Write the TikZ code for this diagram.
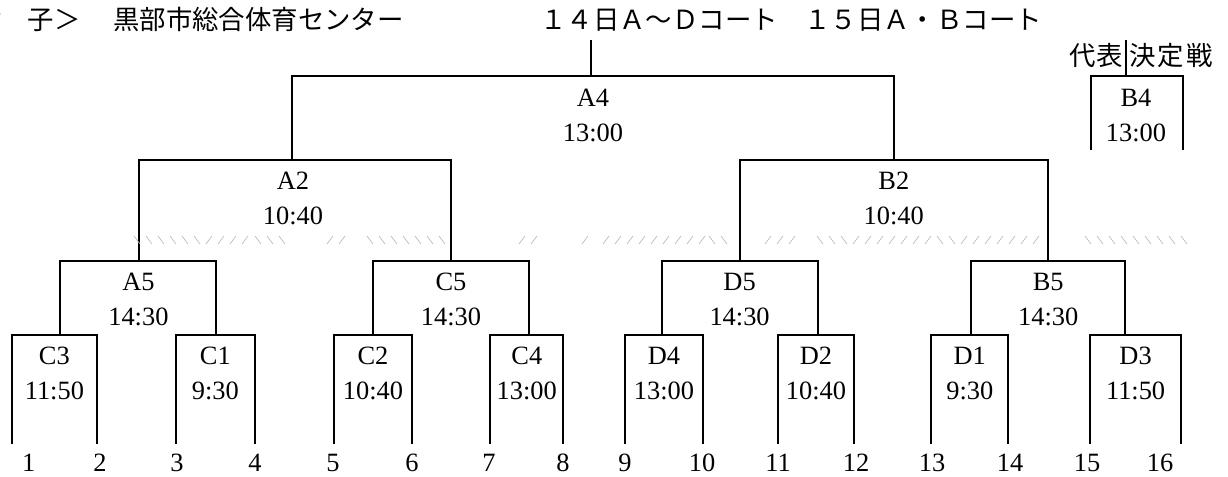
\documentclass[tikz,border=0pt]{standalone}
\usepackage{fontspec}
\setmainfont{Liberation Serif}
\newfontfamily\jpfont{Noto Sans CJK JP}
\usetikzlibrary{positioning}
\tikzstyle{bracket} = [line width=1.5pt]
\tikzstyle{match} = [anchor=north, inner sep=0pt, align=center, font=\fontsize{19.8}{26.25}\selectfont]
\tikzstyle{seed} = [anchor=base, inner sep=0pt, font=\fontsize{19.8}{24}\selectfont]
\tikzstyle{title} = [inner sep=0pt, font=\jpfont\fontsize{19.8}{24}\selectfont]
\tikzstyle{hatch} = [gray!55, line width=0.5pt]

\begin{document}
\begin{tikzpicture}[x=0.75pt, y=-0.75pt]
\useasboundingbox (0,0) rectangle (1228,477);

% Headings
\node (sex) [title, anchor=base east] at (81,30) {＜女　子＞};
\node (venue) [title, anchor=base west] at (113,30) {黒部市総合体育センター};
\node (courts) [title, anchor=base west] at (540,30) {１４日Ａ～Ｄコート　１５日Ａ・Ｂコート};
\node (rep) [title, anchor=base east] at (1123,66) {代表};
\node (decider) [title, anchor=base west, font=\jpfont\fontsize{19.8}{24}\selectfont\addfontfeature{LetterSpace=8}] at (1129,66) {決定戦};

% Entry lines and numbers
\foreach \n/\x/\t in {1/12/28.8, 2/96.8/100, 3/176/177, 4/254.8/255, 5/334.4/333, 6/411.6/412,
  7/490.4/489, 8/563.2/563, 9/625.2/625, 10/702.8/702, 11/777.6/778, 12/854.4/856,
  13/931.2/932, 14/1008.4/1010, 15/1090/1087, 16/1181.2/1160} {
  \coordinate (p\n) at (\x,444);
  \node (no\n) [seed] at (\t,471) {\n};
}

% First round
\coordinate (C3) at (60.4,335);
\coordinate (C1) at (216.4,335);
\coordinate (C2) at (373.2,335);
\coordinate (C4) at (528.8,335);
\coordinate (D4) at (661.6,335);
\coordinate (D2) at (817.6,335);
\coordinate (D1) at (971.2,335);
\coordinate (D3) at (1125.2,335);
\draw [bracket] (p1) |- (C3) -| (p2);
\draw [bracket] (p3) |- (C1) -| (p4);
\draw [bracket] (p5) |- (C2) -| (p6);
\draw [bracket] (p7) |- (C4) -| (p8);
\draw [bracket] (p9) |- (D4) -| (p10);
\draw [bracket] (p11) |- (D2) -| (p12);
\draw [bracket] (p13) |- (D1) -| (p14);
\draw [bracket] (p15) |- (D3) -| (p16);
\node (C3-lbl) [match] at (54.4,347) {C3\\11:50};
\node (C1-lbl) [match] at (215.4,347) {C1\\9:30};
\node (C2-lbl) [match] at (373,347) {C2\\10:40};
\node (C4-lbl) [match] at (526.8,347) {C4\\13:00};
\node (D4-lbl) [match] at (664,347) {D4\\13:00};
\node (D2-lbl) [match] at (816,347) {D2\\10:40};
\node (D1-lbl) [match] at (969.8,347) {D1\\9:30};
\node (D3-lbl) [match] at (1135.6,347) {D3\\11:50};

% Second round
\coordinate (A5) at (138.8,261);
\coordinate (C5) at (451.2,261);
\coordinate (D5) at (739.6,261);
\coordinate (B5) at (1048,261);
\draw [bracket] (C3) |- (A5) -| (C1);
\draw [bracket] (C2) |- (C5) -| (C4);
\draw [bracket] (D4) |- (D5) -| (D2);
\draw [bracket] (D1) |- (B5) -| (D3);
\node (A5-lbl) [match] at (138.4,273) {A5\\14:30};
\node (C5-lbl) [match] at (451,273) {C5\\14:30};
\node (D5-lbl) [match] at (739.6,273) {D5\\14:30};
\node (B5-lbl) [match] at (1048.2,273) {B5\\14:30};

% Semi-finals
\coordinate (A2) at (292,160);
\coordinate (B2) at (894,160);
\draw [bracket] (A5) |- (A2) -| (C5);
\draw [bracket] (D5) |- (B2) -| (B5);
\node (A2-lbl) [match] at (293,172) {A2\\10:40};
\node (B2-lbl) [match] at (893.8,172) {B2\\10:40};

% Final
\coordinate (A4) at (591,76);
\coordinate (champ) at (591,40);
\draw [bracket] (A2) |- (A4) -| (B2);
\draw [bracket] (A4) -- (champ);
\node (A4-lbl) [match] at (593,89) {A4\\13:00};

% Representative decider
\coordinate (B4l) at (1091,150);
\coordinate (B4r) at (1183,150);
\coordinate (B4) at (1126,76);
\coordinate (B4top) at (1126,40);
\draw [bracket] (B4l) |- (B4) -| (B4r);
\draw [bracket] (B4) -- (B4top);
\node (B4-lbl) [match] at (1136,89) {B4\\13:00};

% Faint marks across the middle
\foreach \a/\n/\d in {137/5/1, 209/3/-1, 258/2/1, 330/1/-1, 370/6/1, 522/1/-1, 585/0/-1,
  606/8/-1, 712/1/1, 768/2/-1, 820/2/1, 856/6/-1, 940/1/1, 964/6/-1, 1088/8/1}
  \foreach \i in {0,...,\n}
    \draw [hatch] ({\a+12*\i-3},{240-4*\d}) -- ++(6,{8*\d});

\end{tikzpicture}
\end{document}
